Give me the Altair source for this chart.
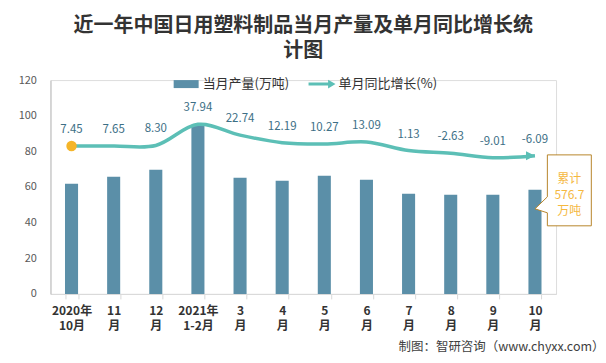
import altair as alt
import pandas as pd

categories = ["2020年|10月", "11|月", "12|月", "2021年|1-2月", "3|月", "4|月",
              "5|月", "6|月", "7|月", "8|月", "9|月", "10|月"]
output = [61.8, 65.7, 69.7, 95.0, 65.2, 63.5, 66.3, 64.0, 56.2, 55.6, 55.6, 58.4]
growth = [7.45, 7.65, 8.30, 37.94, 22.74, 12.19, 10.27, 13.09, 1.13, -2.63, -9.01, -6.09]
bar_series = "当月产量(万吨)"
line_series = "单月同比增长(%)"
total_label = ["累计", "576.7", "万吨"]
title_lines = ["近一年中国日用塑料制品当月产量及单月同比增长统", "计图"]
source_text = "制图：智研咨询（www.chyxx.com）"

FONT = "Noto Sans CJK SC"
BAR_C = "#5b8fa8"
LINE_C = "#5cbfb6"

df = pd.DataFrame({"cat": categories, "output": output, "growth": growth,
                   "label": [f"{v:.2f}" for v in growth],
                   "s1": bar_series, "s2": line_series})
df_first = df.iloc[[0]]
df_last = df.iloc[[-1]]

x_enc = alt.X(
    "cat:N", sort=categories,
    scale=alt.Scale(paddingInner=0.69, paddingOuter=0.345),
    axis=alt.Axis(
        labelExpr="split(datum.label, '|')", labelAngle=0,
        labelFont=FONT, labelFontSize=12, labelFontWeight="bold", labelColor="#333333",
        labelLineHeight=15, labelPadding=7,
        domainColor="#d9d9d9", tickColor="#d9d9d9", tickBand="extent", tickSize=5,
        title=source_text, titleFont=FONT, titleFontSize=12.5, titleFontWeight="normal",
        titleColor="#404040", titleX=554, titleY=53, titleAlign="right",
        titleBaseline="middle",
    ),
)

y_out = alt.Y("output:Q", scale=alt.Scale(domain=[0, 120]),
              axis=alt.Axis(values=[0, 20, 40, 60, 80, 100, 120], grid=False, ticks=False,
                            domainColor="#bfbfbf", labelPadding=14, labelFontSize=11,
                            labelColor="#595959", labelFont=FONT, title=None))
y_out_noaxis = alt.Y("output:Q", scale=alt.Scale(domain=[0, 120]), axis=None)
y_gr = alt.Y("growth:Q", scale=alt.Scale(domain=[-200, 100]), axis=None)

base = alt.Chart(df)

bars = base.mark_bar().encode(
    x=x_enc, y=y_out,
    fill=alt.Fill("s1:N", scale=alt.Scale(range=[BAR_C]),
                  legend=alt.Legend(title=None, orient="none", legendX=123.3, legendY=-8.5,
                                    symbolType="M-1,-0.32H1V0.32H-1Z", symbolSize=625,
                                    symbolStrokeWidth=0, labelFont=FONT, labelFontSize=13,
                                    labelColor="#333333", labelOffset=4, padding=0)),
)

line = base.mark_line(interpolate="catmull-rom", strokeWidth=3.5, color=LINE_C).encode(
    x=x_enc, y=y_gr)

first_dot = alt.Chart(df_first).mark_circle(size=110, color="#f5b529", opacity=1).encode(
    x=x_enc, y=y_gr)

arrow = alt.Chart(df_last).mark_point(shape="M0,0L-1,-0.5L-1,0.5Z", size=324, filled=True,
                                      opacity=1, strokeWidth=0).encode(
    x=x_enc, y=y_gr,
    fill=alt.Fill("s2:N", scale=alt.Scale(range=[LINE_C]),
                  legend=alt.Legend(title=None, orient="none", legendX=258.3, legendY=-9.5,
                                    symbolType="M-1,-0.11H0.45V-0.33L1,0L0.45,0.33V0.11H-1Z",
                                    symbolSize=729, symbolStrokeWidth=0, labelFont=FONT,
                                    labelFontSize=13, labelColor="#333333", labelOffset=3,
                                    padding=0)),
)

labels = base.mark_text(dy=-16, fontSize=11.5, color="#3d6f86", font=FONT).encode(
    x=x_enc, y=y_gr, text="label:N")

callout_box = alt.Chart(df_last).mark_point(
    shape="M0,1.9L1.24,0.7L1.24,-3.5L5.64,-3.5L5.64,3.6L1.24,3.6L1.24,2.3Z",
    size=400, filled=True, fill="white", stroke="#b8862b", strokeWidth=1, opacity=1,
).encode(x=x_enc, y=y_out_noaxis)

callout_text = alt.Chart(df_last).mark_text(
    text=total_label, dx=34.4, dy=-11, fontSize=12, lineHeight=16, color="#f5b83f",
    font=FONT, baseline="middle", align="center",
).encode(x=x_enc, y=y_out_noaxis)

chart = alt.layer(
    bars,
    alt.layer(line, first_dot, arrow, labels),
    alt.layer(callout_box, callout_text),
).resolve_scale(y="independent", fill="independent").properties(
    width=506, height=214,
    padding={"left": 42.5, "top": 72, "right": 42, "bottom": 61},
    autosize=alt.AutoSizeParams(type="none"),
    title=alt.TitleParams(text=title_lines, font=FONT, fontSize=20, fontWeight="bold",
                          color="#333333", lineHeight=25, anchor="middle", offset=10),
).configure_view(stroke="transparent").configure(background="white")

chart.save("out.html", embed_options={"renderer": "svg", "actions": False})
